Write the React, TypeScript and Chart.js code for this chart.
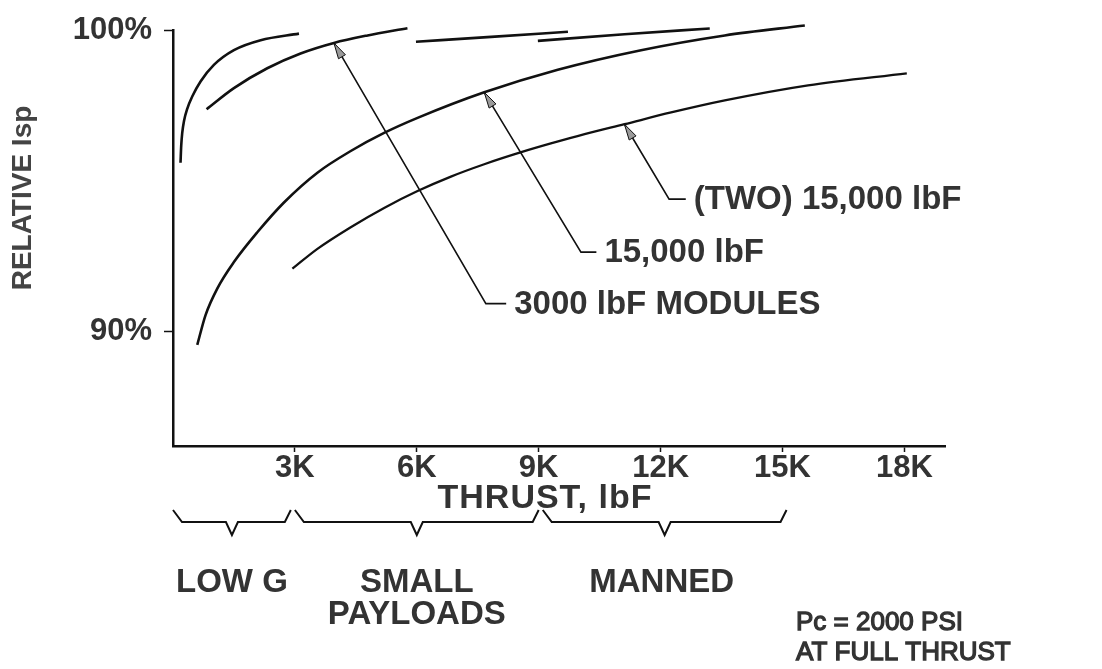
import React, { useEffect, useRef } from "react";
import { Chart, registerables } from "chart.js";

Chart.register(...registerables);

// ---------- DATA (thrust in thousands of lbF, relative Isp in %) ----------
const X_TICKS = [3, 6, 9, 12, 15, 18];
const Y_TICKS = [90, 100];

// 3000 lbF modules: four short segments
const MOD1_X = [0.185, 0.202, 0.227, 0.271, 0.35, 0.473, 0.678, 1.006, 1.499, 2.157, 3.1];
const MOD1_Y = [95.61, 96.17, 96.6, 97.0, 97.4, 97.81, 98.31, 98.86, 99.35, 99.68, 99.9];
const MOD2_X = [0.826, 1.499, 2.32, 3.14, 3.96, 4.79, 5.77];
const MOD2_Y = [97.39, 98.09, 98.75, 99.24, 99.59, 99.84, 100.08];
const MOD3_X = [5.98, 7.83, 9.72];
const MOD3_Y = [99.63, 99.79, 99.96];
const MOD4_X = [8.98, 11.11, 13.21];
const MOD4_Y = [99.66, 99.88, 100.07];

// single 15,000 lbF engine
const E15_X = [0.597, 0.801, 1.089, 1.499, 2.075, 2.731, 3.554, 4.375, 5.196, 6.019, 7.66, 9.47, 11.52, 13.58, 15.55];
const E15_Y = [89.56, 90.55, 91.43, 92.31, 93.3, 94.29, 95.28, 96.0, 96.6, 97.1, 97.95, 98.7, 99.35, 99.84, 100.17];

// two 15,000 lbF engines
const TWO_X = [2.938, 3.554, 4.375, 5.196, 6.019, 6.84, 7.66, 8.57, 9.3, 10.13, 11.11, 12.26, 13.58, 15.63, 18.06];
const TWO_Y = [92.09, 92.75, 93.47, 94.11, 94.67, 95.15, 95.56, 95.96, 96.25, 96.56, 96.89, 97.28, 97.68, 98.18, 98.58];

// call-out labels: arrow tip on curve -> elbow -> end of horizontal run (data units)
const CALLOUT_LABELS = ["(TWO) 15,000 lbF", "15,000 lbF", "3000 lbF MODULES"];
const CALLOUT_TIP_X = [11.11, 7.66, 3.96];
const CALLOUT_TIP_Y = [96.89, 97.95, 99.59];
const CALLOUT_ELBOW_X = [12.21, 10.04, 7.7];
const CALLOUT_ELBOW_Y = [94.4, 92.64, 90.93];
const CALLOUT_END_X = [12.62, 10.42, 8.2];

// mission ranges under the thrust axis
const RANGE_LABELS = [["LOW G"], ["SMALL", "PAYLOADS"], ["MANNED"]];
const RANGE_START = [0, 3, 9.1];
const RANGE_END = [2.9, 9, 15.1];

const Y_TITLE = "RELATIVE Isp";
const X_TITLE = "THRUST, lbF";
const NOTE = ["Pc = 2000 PSI", "AT FULL THRUST"];

// ---------- STYLE ----------
const W = 1102;
const H = 669;
const FONT = '"Liberation Sans", Arial, Helvetica, sans-serif';
const TEXT = "#333333";
const INK = "#111111";

const toPts = (xs: number[], ys: number[]) => xs.map((x, i) => ({ x, y: ys[i] }));

const lineDs = (label: string, xs: number[], ys: number[], width = 2.6) => ({
  label,
  data: toPts(xs, ys),
  borderColor: INK,
  borderWidth: width,
  pointRadius: 0,
  fill: false,
  showLine: true,
  cubicInterpolationMode: "monotone" as const,
  clip: false as const,
});

const overlayPlugin = {
  id: "overlay",
  afterDraw(chart: any) {
    const { ctx, scales } = chart;
    const xs = scales.x;
    const ys = scales.y;
    ctx.save();

    // call-outs
    for (let i = 0; i < CALLOUT_LABELS.length; i++) {
      const tx = xs.getPixelForValue(CALLOUT_TIP_X[i]);
      const ty = ys.getPixelForValue(CALLOUT_TIP_Y[i]);
      const bx = xs.getPixelForValue(CALLOUT_ELBOW_X[i]);
      const by = ys.getPixelForValue(CALLOUT_ELBOW_Y[i]);
      const ex = xs.getPixelForValue(CALLOUT_END_X[i]);
      ctx.strokeStyle = INK;
      ctx.lineWidth = 1.6;
      ctx.beginPath();
      ctx.moveTo(tx, ty);
      ctx.lineTo(bx, by);
      ctx.lineTo(ex, by);
      ctx.stroke();
      const ang = Math.atan2(ty - by, tx - bx);
      const L = 16;
      const hw = 4;
      const cx = tx - L * Math.cos(ang);
      const cy = ty - L * Math.sin(ang);
      const nx = -Math.sin(ang);
      const ny = Math.cos(ang);
      ctx.beginPath();
      ctx.moveTo(tx, ty);
      ctx.lineTo(cx + hw * nx, cy + hw * ny);
      ctx.lineTo(cx - hw * nx, cy - hw * ny);
      ctx.closePath();
      ctx.fillStyle = "#9a9a9a";
      ctx.fill();
      ctx.lineWidth = 1;
      ctx.stroke();
      ctx.fillStyle = TEXT;
      ctx.font = `bold 33px ${FONT}`;
      ctx.textAlign = "left";
      ctx.textBaseline = "middle";
      ctx.fillText(CALLOUT_LABELS[i], ex + 8, by + 1);
    }

    // brackets
    const top = 510;
    const line = 522;
    const tip = 535;
    ctx.strokeStyle = INK;
    ctx.lineWidth = 2;
    ctx.lineJoin = "miter";
    for (let i = 0; i < RANGE_LABELS.length; i++) {
      const p0 = xs.getPixelForValue(RANGE_START[i]);
      const p1 = xs.getPixelForValue(RANGE_END[i]);
      const mid = (p0 + p1) / 2;
      ctx.beginPath();
      ctx.moveTo(p0, top);
      ctx.lineTo(p0 + 9, line);
      ctx.lineTo(mid - 6, line);
      ctx.lineTo(mid, tip);
      ctx.lineTo(mid + 6, line);
      ctx.lineTo(p1 - 6, line);
      ctx.lineTo(p1, top);
      ctx.stroke();
      ctx.fillStyle = TEXT;
      ctx.font = `bold 33px ${FONT}`;
      ctx.textAlign = "center";
      ctx.textBaseline = "middle";
      RANGE_LABELS[i].forEach((t, k) => ctx.fillText(t, mid - (i === 2 ? 3 : 0), 583 + k * 32));
    }

    // axis titles
    ctx.fillStyle = TEXT;
    ctx.font = `bold 34px ${FONT}`;
    ctx.textAlign = "center";
    ctx.textBaseline = "middle";
    (ctx as any).letterSpacing = "1px";
    ctx.fillText(X_TITLE, 545, 499);
    (ctx as any).letterSpacing = "0px";

    ctx.save();
    ctx.translate(23, 198);
    ctx.rotate(-Math.PI / 2);
    ctx.font = `bold 28px ${FONT}`;
    ctx.fillStyle = "#444444";
    ctx.fillText(Y_TITLE, 0, 0);
    ctx.restore();

    // note
    ctx.font = `26px ${FONT}`;
    ctx.fillStyle = TEXT;
    ctx.strokeStyle = TEXT;
    ctx.lineWidth = 1.3;
    ctx.textAlign = "left";
    ctx.fillText(NOTE[0], 796, 623);
    ctx.strokeText(NOTE[0], 796, 623);
    ctx.fillText(NOTE[1], 796, 653);
    ctx.strokeText(NOTE[1], 796, 653);

    ctx.restore();
  },
};

export default function App() {
  const ref = useRef<HTMLCanvasElement | null>(null);

  useEffect(() => {
    if (!ref.current) return;
    const chart = new Chart(ref.current, {
      type: "scatter",
      data: {
        datasets: [
          lineDs("3000 lbF modules (1)", MOD1_X, MOD1_Y),
          lineDs("3000 lbF modules (2)", MOD2_X, MOD2_Y),
          lineDs("3000 lbF modules (3)", MOD3_X, MOD3_Y),
          lineDs("3000 lbF modules (4)", MOD4_X, MOD4_Y),
          lineDs("15,000 lbF", E15_X, E15_Y),
          lineDs("(TWO) 15,000 lbF", TWO_X, TWO_Y, 2.3),
        ],
      },
      options: {
        animation: false,
        responsive: true,
        maintainAspectRatio: false,
        layout: { padding: { left: 0, top: 24, right: W - 945, bottom: 0 } },
        plugins: {
          legend: { display: false },
          tooltip: { enabled: false },
          title: { display: false },
        },
        scales: {
          x: {
            type: "linear",
            min: 0,
            max: 19,
            afterBuildTicks: (s: any) => {
              s.ticks = X_TICKS.map((v) => ({ value: v }));
            },
            afterFit: (s: any) => {
              s.height = H - 446;
            },
            grid: { drawOnChartArea: false, drawTicks: true, tickLength: 6, tickColor: INK, tickWidth: 1.5 },
            border: { display: true, color: INK, width: 2.5 },
            ticks: {
              autoSkip: false,
              maxRotation: 0,
              padding: -2,
              color: TEXT,
              font: { family: FONT, size: 31, weight: "bold" },
              callback: (v: any) => `${v}K`,
            },
          },
          y: {
            type: "linear",
            min: 86.2,
            max: 100,
            afterBuildTicks: (s: any) => {
              s.ticks = Y_TICKS.map((v) => ({ value: v }));
            },
            afterFit: (s: any) => {
              s.width = 173;
            },
            grid: { drawOnChartArea: false, drawTicks: true, tickLength: 9, tickColor: INK, tickWidth: 1.5 },
            border: { display: true, color: INK, width: 2.5 },
            ticks: {
              padding: 12,
              color: TEXT,
              font: { family: FONT, size: 31, weight: "bold" },
              callback: (v: any) => `${v}%`,
            },
          },
        },
      },
      plugins: [overlayPlugin],
    });
    return () => chart.destroy();
  }, []);

  return (
    <div style={{ position: "absolute", left: 0, top: 0, width: W, height: H, background: "#fff" }}>
      <canvas ref={ref} />
    </div>
  );
}
